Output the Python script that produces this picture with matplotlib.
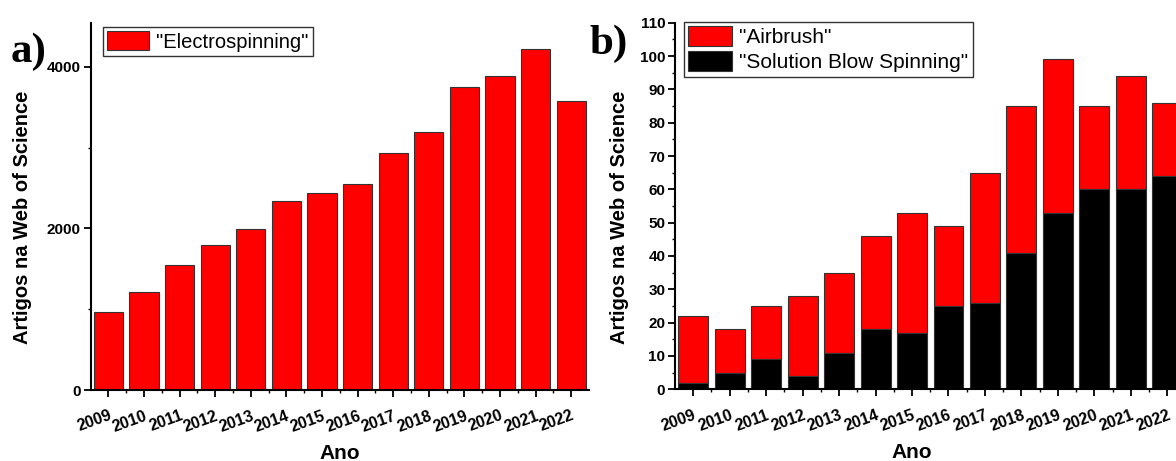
import matplotlib
matplotlib.use("Agg")
import matplotlib.pyplot as plt
from matplotlib.ticker import MultipleLocator, FixedLocator
import numpy as np

years = [2009, 2010, 2011, 2012, 2013, 2014, 2015, 2016, 2017, 2018, 2019, 2020, 2021, 2022]
year_labels = [str(y) for y in years]
electrospinning = [965, 1215, 1545, 1790, 1995, 2340, 2440, 2550, 2930, 3195, 3750, 3885, 4215, 3580]
sbs = [2, 5, 9, 4, 11, 18, 17, 25, 26, 41, 53, 60, 60, 64]
airbrush = [20, 13, 16, 24, 24, 28, 36, 24, 39, 44, 46, 25, 34, 22]

plt.rcParams['font.family'] = ['Liberation Sans', 'DejaVu Sans']

W, H = 1176, 461
fig = plt.figure(figsize=(W / 100, H / 100), dpi=100)

def fx(px):
    return px / W

def fy(py):
    return 1 - py / H

axa = fig.add_axes([fx(90.7), fy(390), fx(589 - 90.7), (390 - 22.7) / H])
axb = fig.add_axes([fx(675), fy(389.3), fx(1185.5 - 675), (389.3 - 22.7) / H])

x = np.arange(len(years))
bw = 0.82
red = '#ff0000'

axa.bar(x, electrospinning, width=bw, color=red, edgecolor='#333333', linewidth=0.8,
        label='"Electrospinning"')
axb.bar(x, airbrush, width=bw, bottom=sbs, color=red, edgecolor='#333333', linewidth=0.8,
        label='"Airbrush"')
axb.bar(x, sbs, width=bw, color='black', edgecolor='#333333', linewidth=0.8,
        label='"Solution Blow Spinning"')

axa.set_ylim(0, 4545)
axb.set_ylim(0, 110)
axa.yaxis.set_major_locator(FixedLocator([0, 2000, 4000]))
axa.yaxis.set_minor_locator(FixedLocator([1000, 3000]))
axb.yaxis.set_major_locator(MultipleLocator(10))
axb.yaxis.set_minor_locator(MultipleLocator(5))

for ax in (axa, axb):
    ax.set_xlim(-0.5, len(years) - 0.5)
    ax.set_xticks(x)
    ax.set_xticks(x[:-1] + 0.5, minor=True)
    ax.set_xticklabels(year_labels, rotation=20, ha='right', rotation_mode='anchor',
                       fontsize=11.5, fontweight='bold')
    for lab in ax.get_yticklabels():
        lab.set_fontweight('bold')
        lab.set_fontsize(11)
    for s in ('top', 'right'):
        ax.spines[s].set_visible(False)
    for s in ('left', 'bottom'):
        ax.spines[s].set_linewidth(1.5)
    ax.tick_params(axis='x', which='major', direction='out', length=5, width=1.3, pad=8)
    ax.tick_params(axis='x', which='minor', direction='out', length=2.5, width=1.0)
    ax.tick_params(axis='y', which='major', direction='out', length=5, width=1.3, pad=2,
                   labelsize=11)
    ax.tick_params(axis='y', which='minor', direction='out', length=2.5, width=1.0)
    ax.set_ylabel('Artigos na Web of Science', fontsize=14.5, fontweight='bold')

axa.set_xlabel('Ano', fontsize=15, fontweight='bold', labelpad=7)
axb.set_xlabel('Ano', fontsize=15, fontweight='bold', labelpad=7, x=0.464)
axa.yaxis.set_label_coords(-0.118, 0.47)
axb.yaxis.set_label_coords(-0.09, 0.47)

lega = axa.legend(loc='upper left', bbox_to_anchor=(fx(103), fy(27)), bbox_transform=fig.transFigure,
                  fontsize=14.5, frameon=True, fancybox=False, edgecolor='black',
                  borderpad=0.2, handlelength=2.1, handleheight=1.1, handletextpad=0.35,
                  borderaxespad=0)
lega.get_frame().set_linewidth(1.0)
legb = axb.legend(loc='upper left', bbox_to_anchor=(fx(684), fy(22)), bbox_transform=fig.transFigure,
                  fontsize=15, frameon=True, fancybox=False, edgecolor='black',
                  borderpad=0.2, handlelength=2.1, handleheight=1.1, handletextpad=0.35,
                  labelspacing=0.2, borderaxespad=0)
legb.get_frame().set_linewidth(1.0)

fig.text(fx(11), fy(62), 'a)', family=['Liberation Serif', 'DejaVu Serif'], fontweight='bold',
         fontsize=31, ha='left', va='baseline')
fig.text(fx(590), fy(54), 'b)', family=['Liberation Serif', 'DejaVu Serif'], fontweight='bold',
         fontsize=31, ha='left', va='baseline')

fig.savefig('out.png', dpi=100)
